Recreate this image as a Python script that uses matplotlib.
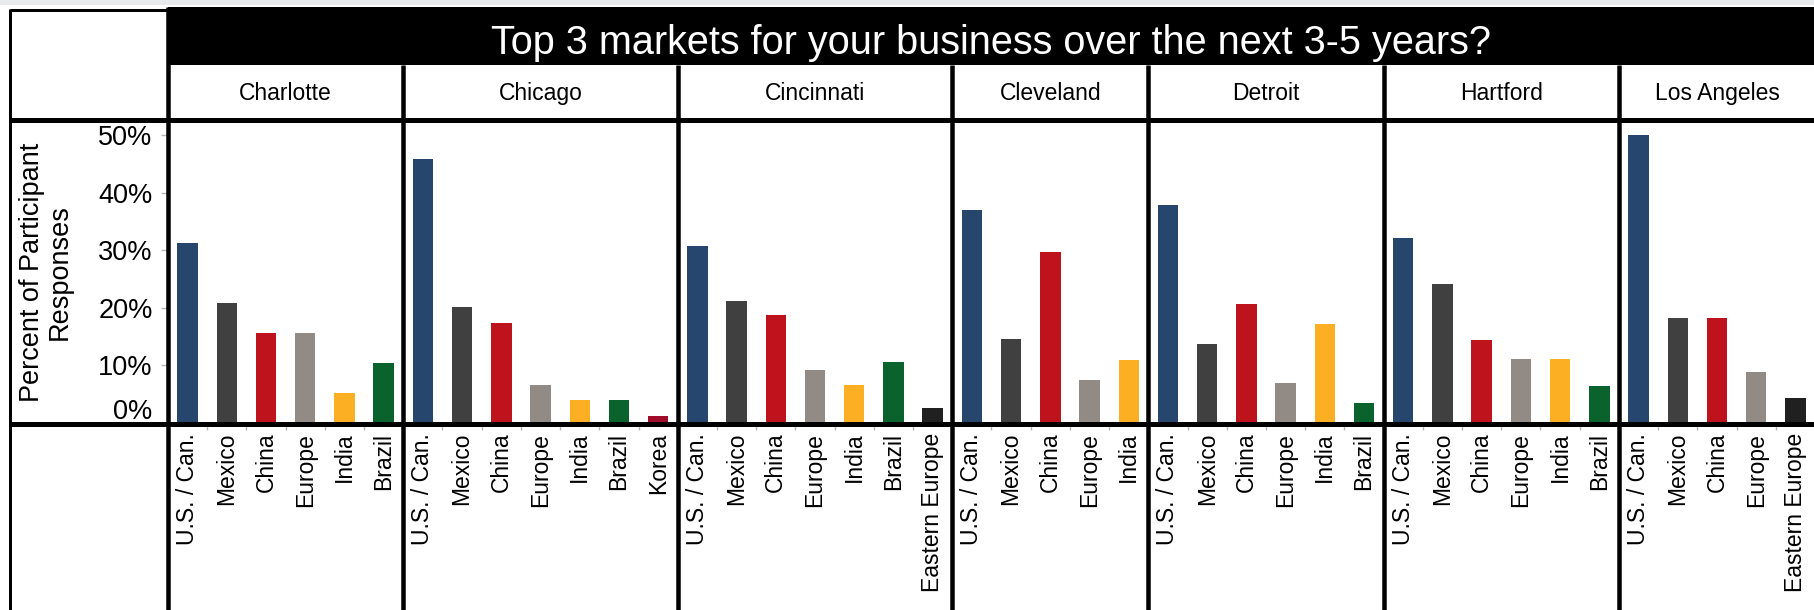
import numpy as np
import matplotlib
matplotlib.use("Agg")
import matplotlib.pyplot as plt
from matplotlib.patches import Rectangle
from matplotlib.transforms import ScaledTranslation

plt.rcParams['font.family'] = ['Liberation Sans', 'DejaVu Sans']

# survey results, one pair of lists per city (share of participant responses, %)
cities = ["Charlotte", "Chicago", "Cincinnati", "Cleveland", "Detroit", "Hartford", "Los Angeles"]

charlotte_markets = ["U.S. / Can.", "Mexico", "China", "Europe", "India", "Brazil"]
charlotte_values = [31.3, 20.8, 15.6, 15.6, 5.2, 10.4]

chicago_markets = ["U.S. / Can.", "Mexico", "China", "Europe", "India", "Brazil", "Korea"]
chicago_values = [45.8, 20.1, 17.4, 6.6, 4.0, 4.0, 1.2]

cincinnati_markets = ["U.S. / Can.", "Mexico", "China", "Europe", "India", "Brazil", "Eastern Europe"]
cincinnati_values = [30.7, 21.2, 18.7, 9.2, 6.6, 10.6, 2.6]

cleveland_markets = ["U.S. / Can.", "Mexico", "China", "Europe", "India"]
cleveland_values = [37.0, 14.6, 29.7, 7.5, 10.9]

detroit_markets = ["U.S. / Can.", "Mexico", "China", "Europe", "India", "Brazil"]
detroit_values = [37.8, 13.7, 20.7, 6.9, 17.2, 3.5]

hartford_markets = ["U.S. / Can.", "Mexico", "China", "Europe", "India", "Brazil"]
hartford_values = [32.1, 24.1, 14.4, 11.1, 11.1, 6.4]

la_markets = ["U.S. / Can.", "Mexico", "China", "Europe", "Eastern Europe"]
la_values = [50.0, 18.2, 18.2, 8.9, 4.3]

markets = [charlotte_markets, chicago_markets, cincinnati_markets, cleveland_markets,
           detroit_markets, hartford_markets, la_markets]
values = [charlotte_values, chicago_values, cincinnati_values, cleveland_values,
          detroit_values, hartford_values, la_values]

market_colors = {
    "U.S. / Can.": "#26466D",
    "Mexico": "#404040",
    "China": "#BE131C",
    "Europe": "#928B85",
    "India": "#FDAF23",
    "Brazil": "#0A622D",
    "Korea": "#A00C2A",
    "Eastern Europe": "#202020",
}

title = "Top 3 markets for your business over the next 3-5 years?"

# figure laid out in pixels
W, H = 1815, 610
fig = plt.figure(figsize=(W / 100, H / 100), dpi=100)
fig.patch.set_facecolor("white")

x_start = 168          # left edge of first panel
plot_top, plot_bottom = 123, 423
header_top, header_bottom = 65, 120
slot = (W - x_start) / sum(len(m) for m in markets)
px = 0.72              # points per pixel at 100 dpi

edges = [x_start]
for m in markets:
    edges.append(edges[-1] + len(m) * slot)

axes = []
for i, (city, mk, vals) in enumerate(zip(cities, markets, values)):
    x0, x1 = edges[i], edges[i + 1]
    ax = fig.add_axes([x0 / W, 1 - plot_bottom / H, (x1 - x0) / W, (plot_bottom - plot_top) / H])
    pos = np.arange(len(mk))
    ax.bar(pos, np.array(vals) / 100, width=0.52,
           color=[market_colors[m] for m in mk], zorder=2)
    ax.set_xlim(-0.5, len(mk) - 0.5)
    ax.set_ylim(0, 0.521)
    for s in ax.spines.values():
        s.set_visible(False)
    ax.set_xticks(pos)
    ax.set_xticklabels(mk, rotation=90, fontsize=16.5)
    ax.set_xticks(pos[:-1] + 0.5, minor=True)
    ax.tick_params(axis="x", which="major", length=0, pad=7)
    ax.tick_params(axis="x", which="minor", length=7 * px, width=1, color="#b5b5b5")
    if i == 0:
        ax.set_yticks(np.arange(0, 0.51, 0.1))
        ax.set_yticklabels([f"{int(round(t * 100))}%" for t in np.arange(0, 0.51, 0.1)])
        ax.tick_params(axis="y", length=7 * px, width=1, color="#b5b5b5",
                       pad=6, labelsize=19.5)
        zero = ax.yaxis.get_major_ticks()[0].label1
        zero.set_transform(zero.get_transform() + ScaledTranslation(0, 0.14, fig.dpi_scale_trans))
    else:
        ax.set_yticks([])
    axes.append(ax)

# overlay for the table frame, title band and city headers
ov = fig.add_axes([0, 0, 1, 1], zorder=10)
ov.set_xlim(0, W)
ov.set_ylim(H, 0)
ov.axis("off")
ov.patch.set_alpha(0)

ov.add_patch(Rectangle((0, 0), W, 4.5, color="#E9EAEE", lw=0))
ov.add_patch(Rectangle((x_start, 7), W - x_start, header_top - 7, color="black", lw=0))
ov.text((x_start + W) / 2, 53.5, title, color="white", fontsize=28.5,
        ha="center", va="baseline")

for i, city in enumerate(cities):
    ov.text((edges[i] + edges[i + 1]) / 2, (header_top + header_bottom) / 2 + 1, city,
            fontsize=16.5, ha="center", va="center")

ov.text(46, 272, "Percent of Participant\nResponses", rotation=90, fontsize=19.5,
        ha="center", va="center", multialignment="center", linespacing=1.1)

# frame lines
ov.plot([10, 10], [8.5, H], color="black", lw=3 * px, solid_capstyle="butt")
ov.plot([10, x_start], [9.5, 9.5], color="black", lw=3 * px, solid_capstyle="butt")
ov.plot([10, W], [header_bottom, header_bottom], color="black", lw=5 * px, solid_capstyle="butt")
ov.plot([10, W], [plot_bottom + 1, plot_bottom + 1], color="black", lw=5 * px, solid_capstyle="butt")
ov.plot([x_start, x_start], [7, H], color="black", lw=4.5 * px, solid_capstyle="butt")
for x in edges[1:-1]:
    ov.plot([x, x], [header_top, H], color="black", lw=4.5 * px, solid_capstyle="butt")

fig.savefig("out.png", dpi=100)
